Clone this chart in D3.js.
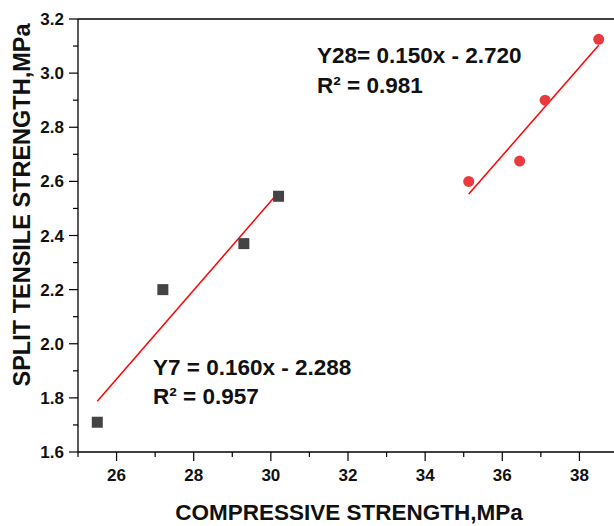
<!DOCTYPE html>
<html>
<head>
<meta charset="utf-8">
<script src="https://cdn.jsdelivr.net/npm/d3@7"></script>
<style>
body { margin: 0; background: #fff; }
svg { display: block; }
text { font-family: "Liberation Sans", Arial, sans-serif; font-weight: bold; fill: #111; }
</style>
</head>
<body>
<svg id="chart" width="614" height="526"></svg>
<script>
"use strict";
// 7 day series
var x7 = [25.5, 27.2, 29.3, 30.2];
var y7 = [1.71, 2.20, 2.37, 2.545];
// 28 day series
var x28 = [35.13, 36.45, 37.11, 38.5];
var y28 = [2.60, 2.675, 2.90, 3.125];
var eq7 = ["Y7 = 0.160x - 2.288", "R\u00b2 = 0.957"];
var eq28 = ["Y28= 0.150x - 2.720", "R\u00b2 = 0.981"];
var xTicks = [26, 28, 30, 32, 34, 36, 38];
var yTicks = [1.6, 1.8, 2.0, 2.2, 2.4, 2.6, 2.8, 3.0, 3.2];

var plotLeft = 78, plotRight = 618, plotTop = 19, plotBottom = 452;
var svg = d3.select("#chart");

var x = d3.scaleLinear().domain([25, 39]).range([plotLeft, plotRight]);
var y = d3.scaleLinear().domain([1.6, 3.2]).range([plotBottom, plotTop]);

// least squares fit for the drawn lines
function fit(xs, ys) {
	var mx = d3.mean(xs), my = d3.mean(ys);
	var sxy = 0, sxx = 0;
	for (var i = 0; i < xs.length; i++) {
		sxy += (xs[i] - mx) * (ys[i] - my);
		sxx += (xs[i] - mx) * (xs[i] - mx);
	}
	var b = sxy / sxx;
	return {b: b, a: my - b * mx};
}

// minor ticks
var xMinor = d3.range(25, 40, 1).filter(function(d){ return xTicks.indexOf(d) < 0; });
var yMinor = d3.range(1.7, 3.2, 0.2);

var gx = svg.append("g");
gx.selectAll("line.minor").data(xMinor).enter().append("line")
	.attr("x1", function(d){ return x(d); }).attr("x2", function(d){ return x(d); })
	.attr("y1", plotBottom).attr("y2", plotBottom + 5)
	.attr("stroke", "#000").attr("stroke-width", 1.2);
gx.selectAll("line.major").data(xTicks).enter().append("line")
	.attr("x1", function(d){ return x(d); }).attr("x2", function(d){ return x(d); })
	.attr("y1", plotBottom).attr("y2", plotBottom + 9)
	.attr("stroke", "#000").attr("stroke-width", 1.2);
gx.selectAll("text").data(xTicks).enter().append("text")
	.attr("x", function(d){ return x(d); })
	.attr("y", plotBottom + 29)
	.attr("text-anchor", "middle")
	.attr("font-size", 17)
	.text(function(d){ return d; });

var gy = svg.append("g");
gy.selectAll("line.minor").data(yMinor).enter().append("line")
	.attr("y1", function(d){ return y(d); }).attr("y2", function(d){ return y(d); })
	.attr("x1", plotLeft).attr("x2", plotLeft - 5)
	.attr("stroke", "#000").attr("stroke-width", 1.2);
gy.selectAll("line.major").data(yTicks).enter().append("line")
	.attr("y1", function(d){ return y(d); }).attr("y2", function(d){ return y(d); })
	.attr("x1", plotLeft).attr("x2", plotLeft - 9)
	.attr("stroke", "#000").attr("stroke-width", 1.2);
gy.selectAll("text").data(yTicks).enter().append("text")
	.attr("x", plotLeft - 14)
	.attr("y", function(d){ return y(d) + 6; })
	.attr("text-anchor", "end")
	.attr("font-size", 17)
	.text(function(d){ return d.toFixed(1); });

// frame
svg.append("line").attr("x1", plotLeft).attr("x2", plotLeft).attr("y1", plotTop).attr("y2", plotBottom)
	.attr("stroke", "#000").attr("stroke-width", 1.3);
svg.append("line").attr("x1", plotLeft).attr("x2", plotRight).attr("y1", plotBottom).attr("y2", plotBottom)
	.attr("stroke", "#000").attr("stroke-width", 1.3);
svg.append("line").attr("x1", plotLeft).attr("x2", plotRight).attr("y1", plotTop).attr("y2", plotTop)
	.attr("stroke", "#000").attr("stroke-width", 1.3);

// fit lines
[[x7, y7], [x28, y28]].forEach(function(s) {
	var f = fit(s[0], s[1]);
	var x0 = d3.min(s[0]), x1 = d3.max(s[0]);
	svg.append("line")
		.attr("x1", x(x0)).attr("y1", y(f.a + f.b * x0))
		.attr("x2", x(x1)).attr("y2", y(f.a + f.b * x1))
		.attr("stroke", "#f00").attr("stroke-width", 1.5);
});

// points
svg.selectAll("rect.p7").data(x7).enter().append("rect")
	.attr("x", function(d){ return x(d) - 5.5; })
	.attr("y", function(d, i){ return y(y7[i]) - 5.5; })
	.attr("width", 11).attr("height", 11)
	.attr("fill", "#444");
svg.selectAll("circle.p28").data(x28).enter().append("circle")
	.attr("cx", function(d){ return x(d); })
	.attr("cy", function(d, i){ return y(y28[i]); })
	.attr("r", 5.5)
	.attr("fill", "#ea3a3f");

// equations
svg.selectAll("text.eq28").data(eq28).enter().append("text")
	.attr("x", 317).attr("y", function(d, i){ return 63 + i * 30; })
	.attr("font-size", 22.5)
	.text(function(d){ return d; });
svg.selectAll("text.eq7").data(eq7).enter().append("text")
	.attr("x", 153).attr("y", function(d, i){ return 375 + i * 29; })
	.attr("font-size", 22.5)
	.text(function(d){ return d; });

// axis titles
svg.append("text")
	.attr("x", 349).attr("y", 520)
	.attr("text-anchor", "middle")
	.attr("font-size", 22.5)
	.text("COMPRESSIVE STRENGTH,MPa");
svg.append("text")
	.attr("transform", "translate(30,205) rotate(-90)")
	.attr("text-anchor", "middle")
	.attr("font-size", 23.5)
	.text("SPLIT TENSILE STRENGTH,MPa");
</script>
</body>
</html>
